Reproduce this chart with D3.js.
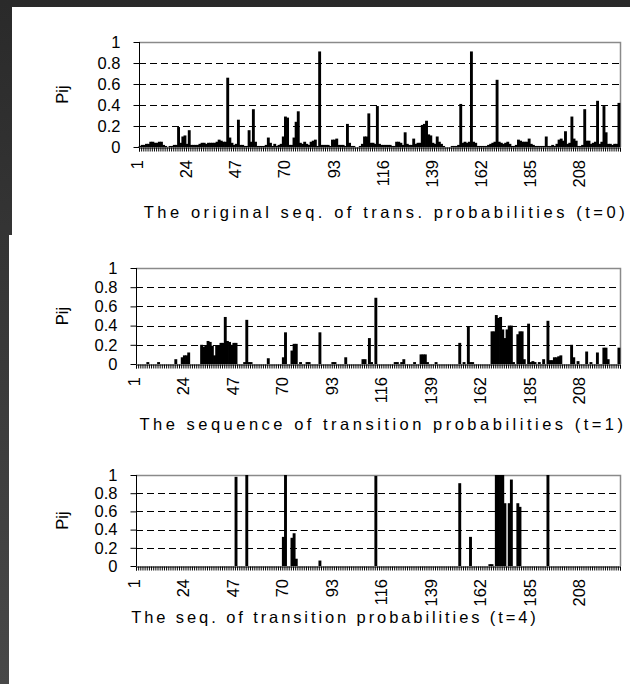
<!DOCTYPE html>
<html lang="en">
<head>
<meta charset="UTF-8">
<script src="https://cdn.jsdelivr.net/npm/d3@7/dist/d3.min.js"></script>
<style>
  html, body { margin: 0; padding: 0; background: #333; }
  svg { display: block; }
  text { font-family: Arial, "Liberation Sans", sans-serif; fill: #000; }
</style>
</head>
<body>
<svg width="630" height="684"></svg>
<script>
// ---- data ----
var nCats = 225;
var categories = d3.range(1, nCats + 1);
var tickLabels = [1, 24, 47, 70, 93, 116, 139, 162, 185, 208];
var yTicks = [0, 0.2, 0.4, 0.6, 0.8, 1];
var yTitle = "Pij";
var titles = [
    "The original seq. of trans. probabilities (t=0)",
    "The sequence of transition probabilities (t=1)",
    "The seq. of transition probabilities (t=4)"
];

var probsT0 = [
    0.01,0.02,0.02,0.03,0.03,0.05,0.05,0.04,0.04,0.05,0.05,0.02,0.01,0,0.01,
    0.01,0.02,0.02,0.19,0.04,0.10,0.11,0.03,0.16,0.02,0.02,0.02,0.02,0.03,0.04,
    0.04,0.03,0.04,0.04,0.04,0.04,0.05,0.07,0.06,0.05,0.05,0.66,0.09,0.04,0.02,
    0.03,0.26,0.02,0.02,0.01,0.01,0.16,0.05,0.36,0.05,0.01,0.01,0.01,0.01,0.02,
    0.09,0.04,0.01,0.03,0.01,0.02,0.03,0.10,0.29,0.28,0.02,0.02,0.09,0.24,0.34,
    0.04,0.03,0.05,0.03,0.02,0.05,0.06,0.07,0.01,0.91,0.02,0.02,0.02,0.02,0.01,
    0.07,0.07,0.08,0.02,0.02,0.02,0.01,0.22,0.04,0.01,0.01,0,0,0.01,0.03,
    0.10,0.10,0.32,0.04,0.04,0.03,0.39,0.03,0.02,0.02,0.02,0.02,0.02,0.01,0.01,
    0.05,0.05,0.04,0.02,0.14,0.03,0.02,0.02,0.08,0.03,0.04,0.04,0.21,0.22,0.25,
    0.12,0.11,0.04,0.03,0.10,0.05,0.03,0.01,0,0,0,0.01,0.01,0.01,0.02,
    0.41,0.04,0.05,0.04,0.05,0.91,0.05,0.04,0.01,0.01,0.01,0.01,0.01,0.02,0.03,
    0.04,0.05,0.64,0.05,0.04,0.03,0.04,0.05,0.03,0.01,0.01,0.02,0.07,0.06,0.05,
    0.05,0.05,0.08,0.03,0.02,0.01,0.01,0.01,0.01,0.01,0.10,0.01,0.01,0.02,0.01,
    0.03,0.07,0.08,0.06,0.15,0.03,0.04,0.29,0.08,0.06,0.01,0.01,0.02,0.36,0.06,
    0.06,0.03,0.04,0.05,0.44,0.03,0.05,0.39,0.14,0.03,0.03,0.02,0.03,0.03,0.42
];

var probsT1 = [
    0,0,0,0,0,0.02,0,0,0,0,0.02,0,0,0,0,
    0,0,0,0.05,0,0,0.07,0.09,0.09,0.12,0,0,0,0,0,
    0.20,0.18,0.19,0.24,0.23,0.19,0.09,0.19,0.19,0.22,0.22,0.49,0.24,0.23,0.20,
    0.22,0.22,0,0,0,0.02,0.46,0.02,0.02,0,0,0,0,0,0,
    0,0.06,0,0,0,0,0,0,0.07,0.33,0,0,0.14,0.21,0.21,
    0,0.02,0,0,0.02,0.02,0,0,0,0,0.33,0,0,0,0,
    0,0.02,0.02,0,0,0,0,0.07,0,0,0,0,0,0,0,
    0.05,0.05,0,0.27,0.02,0,0.69,0,0,0,0,0,0,0,0,
    0.02,0.02,0,0.02,0.05,0,0,0,0,0.02,0,0,0.10,0.10,0.10,
    0.02,0,0,0,0.02,0,0,0,0,0,0,0,0,0,0,
    0.22,0,0.02,0,0.39,0.02,0.02,0,0,0,0,0,0,0,0,
    0.34,0.34,0.51,0.48,0.49,0.36,0.27,0.36,0.40,0.40,0.02,0,0.31,0.34,0.34,
    0.05,0,0.42,0.02,0.03,0.02,0,0.02,0,0.05,0,0.45,0.04,0.04,0.07,
    0.07,0.08,0.09,0,0,0,0,0.20,0.07,0,0.03,0,0,0,0.13,
    0,0.02,0,0,0.12,0,0,0.17,0.17,0.05,0,0,0,0,0.17
];

var probsT4 = [
    0,0,0,0,0,0,0,0,0,0,0,0,0,0,0,
    0,0,0,0,0,0,0,0,0,0,0,0,0,0,0,
    0,0,0,0,0,0,0,0,0,0,0,0,0,0,0,
    0,0.98,0,0,0,0,1.00,0,0,0,0,0,0,0,0,
    0,0,0,0,0,0,0,0,0.32,1.00,0,0,0.31,0.36,0.08,
    0,0,0,0,0,0,0,0,0,0,0.06,0,0,0,0,
    0,0,0,0,0,0,0,0,0,0,0,0,0,0,0,
    0,0,0,0,0,0,0.99,0,0,0,0,0,0,0,0,
    0,0,0,0,0,0,0,0,0,0,0,0,0,0,0,
    0,0,0,0,0,0,0,0,0,0,0,0,0,0,0,
    0.91,0,0,0,0,0.32,0,0,0,0,0,0,0,0,0.02,
    0.02,0,1.00,1.00,1.00,1.00,0.69,0,0.69,0.95,0,0,0.69,0.65,0,
    0,0,0,0,0,0,0,0,0,0,0,1.00,0,0,0,
    0,0,0,0,0,0,0,0,0,0,0,0,0,0,0,
    0,0,0,0,0,0,0,0,0,0,0,0,0,0,0
];

// ---- layout ----
var panels = [
    {values: probsT0, title: titles[0], left: 139, right: 620, top: 42, bottom: 147, titleX: 386, titleY: 218, spacing: 3.55},
    {values: probsT1, title: titles[1], left: 136, right: 620, top: 268, bottom: 364, titleX: 383, titleY: 430, spacing: 3.5},
    {values: probsT4, title: titles[2], left: 136, right: 620, top: 475, bottom: 566, titleX: 335, titleY: 623, spacing: 2.9}
];
var font = "Arial, 'Liberation Sans', sans-serif";

var svg = d3.select("svg");

// dark backdrop with white sheets on it
var grad = svg.append("defs").append("linearGradient")
    .attr("id", "bg").attr("x1", 0).attr("y1", 0).attr("x2", 0).attr("y2", 1);
grad.append("stop").attr("offset", "0%").attr("stop-color", "#2a2a2a");
grad.append("stop").attr("offset", "100%").attr("stop-color", "#484848");
svg.append("rect").attr("width", 630).attr("height", 684).attr("fill", "url(#bg)");
svg.append("rect").attr("x", 12).attr("y", 7).attr("width", 618).attr("height", 229).attr("fill", "#fff");
svg.append("rect").attr("x", 9).attr("y", 235).attr("width", 621).attr("height", 449).attr("fill", "#fff");

panels.forEach(function(p) {
    var g = svg.append("g");

    var x = d3.scaleBand()
        .domain(categories)
        .range([p.left, p.right])
        .paddingInner(0);

    var xEdge = d3.scaleLinear()
        .domain([0, nCats])
        .range([p.left, p.right]);

    var y = d3.scaleLinear()
        .domain([0, 1])
        .range([p.bottom, p.top]);

    // dashed gridlines
    g.selectAll(".grid")
        .data(yTicks.filter(function(d) { return d > 0 && d < 1; }))
        .enter().append("line")
        .attr("x1", p.left).attr("x2", p.right)
        .attr("y1", function(d) { return Math.round(y(d)) + 0.5; })
        .attr("y2", function(d) { return Math.round(y(d)) + 0.5; })
        .attr("stroke", "#000")
        .attr("stroke-dasharray", "7,4");

    // grey frame top / right
    g.append("path")
        .attr("d", "M" + p.left + "," + (Math.round(y(1)) + 0.5) + "H" + (p.right + 0.5) + "V" + p.bottom)
        .attr("fill", "none")
        .attr("stroke", "#8a8a8a")
        .attr("stroke-width", 1.5);

    // bars
    var bw = x.step() * 1.35;
    g.selectAll(".bar")
        .data(p.values)
        .enter().append("rect")
        .attr("x", function(d, i) { return x(categories[i]) + x.bandwidth() / 2 - bw / 2; })
        .attr("y", function(d) { return y(d); })
        .attr("width", bw)
        .attr("height", function(d) { return y(0) - y(d); })
        .attr("fill", "#000");

    // y axis
    var yAxis = g.append("g")
        .attr("transform", "translate(" + (p.left + 0.5) + ",0)")
        .call(d3.axisLeft(y).tickValues(yTicks).tickSize(6).tickPadding(13).tickFormat(d3.format("")));
    yAxis.select(".domain").attr("stroke", "#000").attr("d", "M0," + y(1) + "V" + y(0));
    yAxis.selectAll("text").style("font-size", "16.5px").style("font-family", font);

    // x axis: a tick at every category edge
    var xAxis = g.append("g")
        .attr("transform", "translate(0," + (p.bottom + 0.5) + ")")
        .call(d3.axisBottom(xEdge).tickValues(d3.range(0, nCats + 1)).tickSize(4).tickFormat(""));
    xAxis.select(".domain").attr("stroke", "#000");
    xAxis.selectAll(".tick line").attr("stroke", "#000");

    // rotated category labels
    g.selectAll(".xlab")
        .data(tickLabels)
        .enter().append("text")
        .attr("transform", function(d) {
            return "translate(" + (x(d) + x.bandwidth() / 2 - 3) + "," + (p.bottom + 13) + ") rotate(-90)";
        })
        .attr("text-anchor", "end")
        .attr("dy", "0.35em")
        .style("font-size", "16.5px")
        .text(function(d) { return d; });

    // axis title
    g.append("text")
        .attr("transform", "translate(68," + ((p.top + p.bottom) / 2) + ") rotate(-90)")
        .attr("text-anchor", "middle")
        .style("font-size", "16.5px")
        .text(yTitle);

    // chart caption
    g.append("text")
        .attr("x", p.titleX)
        .attr("y", p.titleY)
        .attr("text-anchor", "middle")
        .style("font-size", "16.5px")
        .style("letter-spacing", p.spacing + "px")
        .text(p.title);
});
</script>
</body>
</html>
